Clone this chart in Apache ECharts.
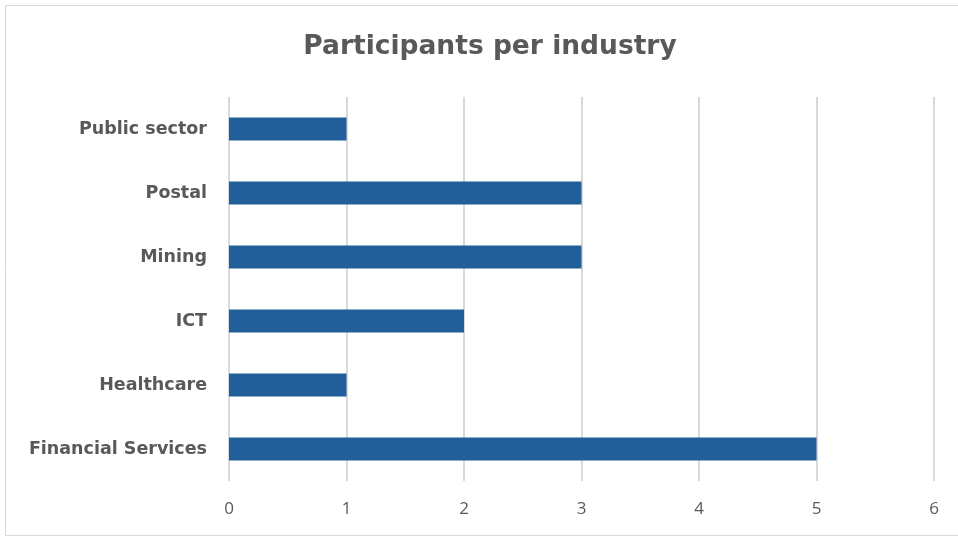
<!DOCTYPE html>
<html>
<head>
<meta charset="utf-8">
<script src="https://cdn.jsdelivr.net/npm/echarts@6/dist/echarts.min.js"></script>
<style>
  html, body { margin: 0; padding: 0; background: #fff; }
  #chart { width: 958px; height: 537px; }
</style>
</head>
<body>
<div id="chart"></div>
<script>
// categories bottom -> top
const categories = ['Financial Services', 'Healthcare', 'ICT', 'Mining', 'Postal', 'Public sector'];
const participants = [5, 1, 2, 3, 3, 1];
const xTicks = { min: 0, max: 6, interval: 1 };

const chart = echarts.init(document.getElementById('chart'));
const option = {
  backgroundColor: '#fff',
  animation: false,
  title: {
    text: 'Participants per industry',
    left: 485,
    textAlign: 'center',
    top: 29,
    textStyle: {
      fontFamily: 'DejaVu Sans',
      fontWeight: 'bold',
      fontSize: 26.5,
      color: '#595959'
    }
  },
  graphic: [{
    type: 'rect',
    shape: { x: 5.5, y: 5.5, width: 970, height: 530 },
    style: { fill: 'none', stroke: '#d9d9d9', lineWidth: 1 },
    silent: true
  }],
  grid: { left: 229, right: 24, top: 97, bottom: 56, containLabel: false },
  xAxis: {
    type: 'value',
    min: xTicks.min,
    max: xTicks.max,
    interval: xTicks.interval,
    axisLine: { show: false },
    axisTick: { show: false },
    splitLine: { show: true, lineStyle: { color: '#d9d9d9', width: 2 } },
    axisLabel: {
      color: '#595959',
      fontFamily: 'Open Sans',
      fontSize: 17,
      margin: 20
    }
  },
  yAxis: {
    type: 'category',
    data: categories,
    axisLine: { show: false },
    axisTick: { show: false },
    axisLabel: {
      color: '#595959',
      fontFamily: 'DejaVu Sans',
      fontWeight: 'bold',
      fontSize: 17.5,
      margin: 22
    }
  },
  series: [{
    type: 'bar',
    data: participants,
    barWidth: 23,
    itemStyle: { color: '#215F9A' }
  }]
};
chart.setOption(option);
</script>
</body>
</html>
